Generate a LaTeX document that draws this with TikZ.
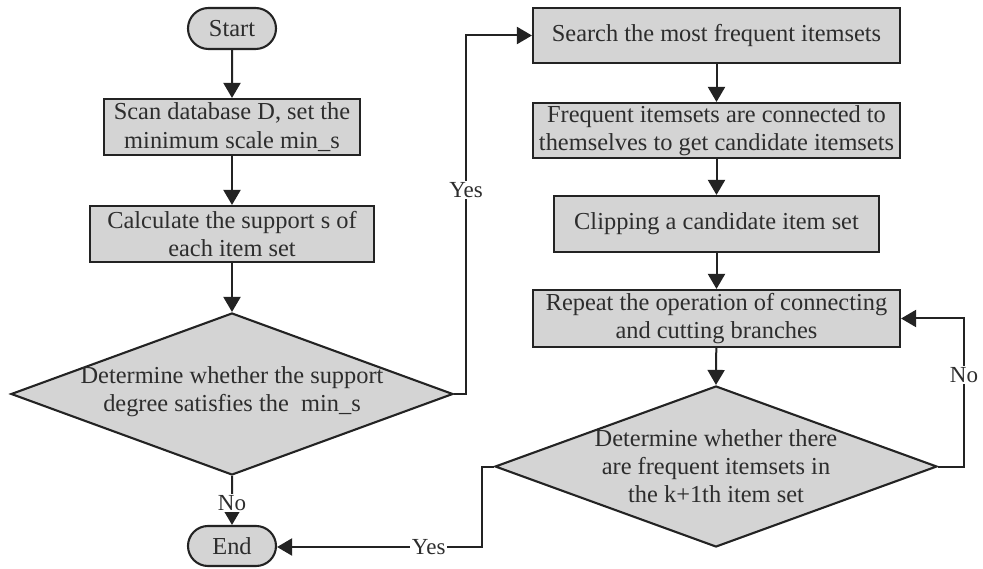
\documentclass[tikz,border=0pt]{standalone}
\usepackage{fontspec}
\setmainfont{Liberation Serif}
\usetikzlibrary{shapes.geometric,shapes.misc,arrows.meta}
\definecolor{boxfill}{RGB}{212,212,212}
\definecolor{linecol}{RGB}{35,35,35}
\definecolor{txtcol}{RGB}{45,45,45}
\tikzset{
  base/.style={draw=linecol, fill=boxfill, line width=2.1pt, inner sep=0pt, align=center, text=txtcol,
    font=\fontsize{24.4}{28.3}\selectfont},
  proc/.style={base, rectangle},
  term/.style={base, rounded rectangle, minimum width=88pt, minimum height=41pt},
  dec/.style={base, diamond},
  dtext/.style={inner sep=0pt, align=center, text=txtcol, font=\fontsize{24.4}{28.3}\selectfont},
  conn/.style={draw=linecol, line width=2pt, -{Triangle[length=15pt,width=17pt]}},
  lab/.style={fill=white, inner sep=1.5pt, text=txtcol, font=\fontsize{23}{26}\selectfont}
}
\begin{document}
\begin{tikzpicture}[x=1pt,y=-1pt]
\useasboundingbox (0,0) rectangle (983,569);
% left column
\node[term] (start) at (232,28.5) {Start};
\node[proc, minimum width=256pt, minimum height=56pt] (scan) at (232,127) {Scan database D, set the\\minimum scale min\_s};
\node[proc, minimum width=284pt, minimum height=56pt] (calc) at (232,234) {Calculate the support s of\\each item set};
\node[dec, minimum width=442pt, minimum height=162pt] (d1) at (232,394) {};
\node[dtext] (d1t) at (232,392) {Determine whether the support\\degree satisfies the \ min\_s};
\node[term, minimum height=40pt] (end) at (232,546) {End};
% right column
\node[proc, minimum width=367pt, minimum height=55pt] (search) at (716.5,35.5) {Search the most frequent itemsets};
\node[proc, minimum width=367pt, minimum height=55pt] (freq) at (716.5,130.5) {Frequent itemsets are connected to\\themselves to get candidate itemsets};
\node[proc, minimum width=325pt, minimum height=56pt] (clip) at (716.5,224) {Clipping a candidate item set};
\node[proc, minimum width=367pt, minimum height=57pt] (rep) at (716.5,318.5) {Repeat the operation of connecting\\and cutting branches};
\node[dec, minimum width=442pt, minimum height=161pt] (d2) at (716,466.5) {};
\node[dtext] (d2t) at (716,466) {Determine whether there\\are frequent itemsets in\\the k+1th item set};
% waypoints
\coordinate (y1a) at (466,394);
\coordinate (y1b) at (466,35.5);
\coordinate (n2a) at (964,466.5);
\coordinate (n2b) at (964,318.5);
\coordinate (y2a) at (482,466.5);
\coordinate (y2b) at (482,547);
% connectors
\draw[conn] (start) -- (scan);
\draw[conn] (scan) -- (calc);
\draw[conn] (calc) -- (d1.north);
\draw[conn] (d1.south) -- node[lab, pos=0.55] (no1) {No} (end);
\draw[conn] (d1.east) -- (y1a) -- node[lab, pos=0.57] (yes1) {Yes} (y1b) -- (search.west);
\draw[conn] (search) -- (freq);
\draw[conn] (freq) -- (clip);
\draw[conn] (clip) -- (rep);
\draw[conn] (rep) -- (d2.north);
\draw[conn] (d2.east) -- (n2a) -- node[lab, pos=0.62] (no2) {No} (n2b) -- (rep.east);
\draw[conn] (d2.west) -- (y2a) -- (y2b) -- node[lab, pos=0.26] (yes2) {Yes} (end.east |- y2b);
\end{tikzpicture}
\end{document}
